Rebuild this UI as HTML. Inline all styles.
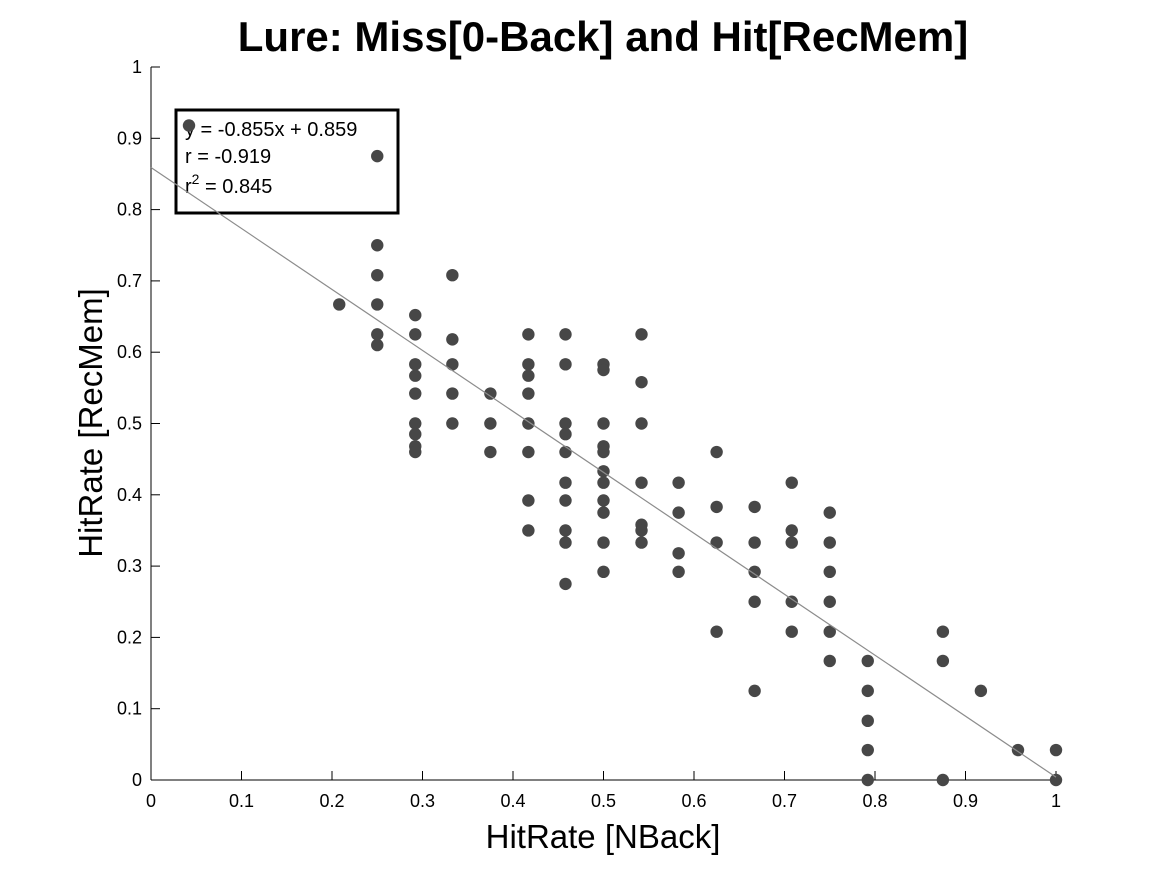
<!DOCTYPE html>
<html><head><meta charset="utf-8"><style>
html,body{margin:0;padding:0;background:#fff;}
svg{display:block;font-family:"Liberation Sans",sans-serif;}
</style></head><body>
<svg id="chart" width="1167" height="875" viewBox="0 0 1167 875">
<text x="603" y="51" text-anchor="middle" font-size="42" font-weight="bold">Lure: Miss[0-Back] and Hit[RecMem]</text>
<g id="axes"></g>
<g>
<rect x="176" y="110" width="222" height="103" fill="#fff" stroke="#000" stroke-width="3"/>
<text x="185" y="136" font-size="20">y = -0.855x + 0.859</text>
<text x="185" y="163" font-size="20">r = -0.919</text>
<text x="185" y="193" font-size="20">r<tspan dy="-9" font-size="14">2</tspan><tspan dy="9"> = 0.845</tspan></text>
</g>
<g id="points"></g>
<text x="603" y="848" text-anchor="middle" font-size="33">HitRate [NBack]</text>
<text transform="translate(102,423) rotate(-90)" text-anchor="middle" font-size="33">HitRate [RecMem]</text>
</svg>
<script>
const xTicks=[0,0.1,0.2,0.3,0.4,0.5,0.6,0.7,0.8,0.9,1];
const yTicks=[0,0.1,0.2,0.3,0.4,0.5,0.6,0.7,0.8,0.9,1];
const xTickLabels=["0","0.1","0.2","0.3","0.4","0.5","0.6","0.7","0.8","0.9","1"];
const yTickLabels=["0","0.1","0.2","0.3","0.4","0.5","0.6","0.7","0.8","0.9","1"];
const slope=-0.855, intercept=0.859;
const xValues=[0.042,0.208,
0.25,0.25,0.25,0.25,0.25,0.25,
0.292,0.292,0.292,0.292,0.292,0.292,0.292,0.292,0.292,
0.333,0.333,0.333,0.333,0.333,
0.375,0.375,0.375,
0.417,0.417,0.417,0.417,0.417,0.417,0.417,0.417,
0.458,0.458,0.458,0.458,0.458,0.458,0.458,0.458,0.458,0.458,
0.5,0.5,0.5,0.5,0.5,0.5,0.5,0.5,0.5,0.5,0.5,
0.542,0.542,0.542,0.542,0.542,0.542,0.542,
0.583,0.583,0.583,0.583,
0.625,0.625,0.625,0.625,
0.667,0.667,0.667,0.667,0.667,
0.708,0.708,0.708,0.708,0.708,
0.75,0.75,0.75,0.75,0.75,0.75,
0.792,0.792,0.792,0.792,0.792,
0.875,0.875,0.875,
0.917,0.958,1,1];
const yValues=[0.918,0.667,
0.875,0.75,0.708,0.667,0.625,0.61,
0.652,0.625,0.583,0.567,0.542,0.5,0.485,0.468,0.46,
0.708,0.618,0.583,0.542,0.5,
0.542,0.5,0.46,
0.625,0.583,0.567,0.542,0.5,0.46,0.392,0.35,
0.625,0.583,0.5,0.485,0.46,0.417,0.392,0.35,0.333,0.275,
0.583,0.575,0.5,0.468,0.46,0.433,0.417,0.392,0.375,0.333,0.292,
0.625,0.558,0.5,0.417,0.358,0.35,0.333,
0.417,0.375,0.318,0.292,
0.46,0.383,0.333,0.208,
0.383,0.333,0.292,0.25,0.125,
0.417,0.35,0.333,0.25,0.208,
0.375,0.333,0.292,0.25,0.208,0.167,
0.167,0.125,0.083,0.042,0,
0.208,0.167,0,
0.125,0.042,0.042,0];
const NS="http://www.w3.org/2000/svg";
const L=151,R=1056,T=67,B=780;
const sx=v=>L+(R-L)*v, sy=v=>B-(B-T)*v;
const axes=document.getElementById('axes'), pts=document.getElementById('points');
function mk(tag,attrs,parent){const e=document.createElementNS(NS,tag);for(const k in attrs)e.setAttribute(k,attrs[k]);parent.appendChild(e);return e;}
let e=mk('line',{x1:L,y1:B,x2:R,y2:B,stroke:'#000','stroke-width':1},axes);


e=mk('line',{x1:L,y1:T,x2:L,y2:B,stroke:'#000','stroke-width':1},axes);


xTicks.forEach((v,i)=>{
 let t=mk('line',{x1:sx(v),y1:B,x2:sx(v),y2:B-9,stroke:'#000'},axes);
 
 
 let tx=mk('text',{x:sx(v),y:B+27,'text-anchor':'middle','font-size':18},axes);
 tx.textContent=xTickLabels[i];
 
 
});
yTicks.forEach((v,i)=>{
 let t=mk('line',{x1:L,y1:sy(v),x2:L+9,y2:sy(v),stroke:'#000'},axes);
 
 
 let tx=mk('text',{x:L-9,y:sy(v)+6,'text-anchor':'end','font-size':18},axes);
 tx.textContent=yTickLabels[i];
 
 
});
xValues.forEach((x,i)=>{
 let c=mk('circle',{cx:sx(x),cy:sy(yValues[i]),r:6.2,fill:'#474747'},pts);
 
 
});
let fl=mk('line',{x1:sx(0),y1:sy(intercept),x2:sx(1),y2:sy(intercept+slope),stroke:'#8c8c8c','stroke-width':1.2},pts);


</script>
</body></html>
